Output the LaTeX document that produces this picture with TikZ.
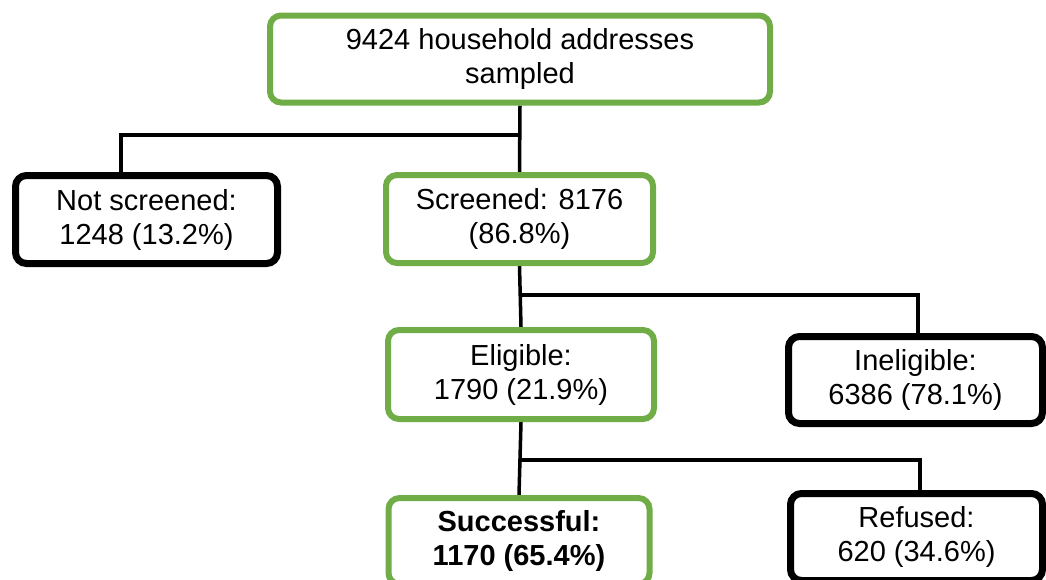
\documentclass[tikz,border=0pt]{standalone}
\usepackage{fontspec}
\setmainfont{Liberation Sans}
\usetikzlibrary{backgrounds}
\definecolor{stagegreen}{HTML}{70AD47}
\tikzset{
  stage/.style={draw=stagegreen, fill=white, line width=6pt, rounded corners=11pt,
    align=center, inner sep=0pt, font=\fontsize{29}{34}\selectfont},
  dropout/.style={stage, draw=black, line width=7pt},
  link/.style={line width=3.5pt}
}
\begin{document}
\begin{tikzpicture}[x=1pt,y=-1pt]
  \useasboundingbox (0,0) rectangle (1046,579);
  % boxes
  \node[stage, minimum width=500pt, minimum height=87pt] (sampled) at (520,59)
    {9424 household addresses\\sampled};
  \node[dropout, minimum width=262pt, minimum height=88pt] (notscreened) at (146.5,219.5)
    {Not screened:\\1248 (13.2\%)};
  \node[stage, minimum width=267pt, minimum height=88pt] (screened) at (519.5,219)
    {Screened: 8176\\(86.8\%)};
  \node[stage, minimum width=266pt, minimum height=89pt] (eligible) at (521,374.5)
    {Eligible:\\1790 (21.9\%)};
  \node[dropout, minimum width=254pt, minimum height=87pt] (ineligible) at (915.5,380)
    {Ineligible:\\6386 (78.1\%)};
  \node[stage, minimum width=261pt, minimum height=86pt] (successful) at (519,541)
    {\bfseries Successful:\\\bfseries 1170 (65.4\%)};
  \node[dropout, minimum width=252pt, minimum height=87pt] (refused) at (916.5,537)
    {Refused:\\620 (34.6\%)};
  % connectors
  \coordinate (split1) at (520,135);
  \coordinate (split2) at (520,295);
  \coordinate (split3) at (520,460);
  \begin{scope}[on background layer]
    \draw[link] (sampled.south) -- (screened.north);
    \draw[link] (split1) -| ([xshift=-25.5pt]notscreened.north);
    \draw[link] (screened.south) -- (eligible.north);
    \draw[link] (split2) -| ([xshift=2.5pt]ineligible.north);
    \draw[link] (eligible.south) -- (successful.north);
    \draw[link] (split3) -| ([xshift=3.5pt]refused.north);
  \end{scope}
\end{tikzpicture}
\end{document}
